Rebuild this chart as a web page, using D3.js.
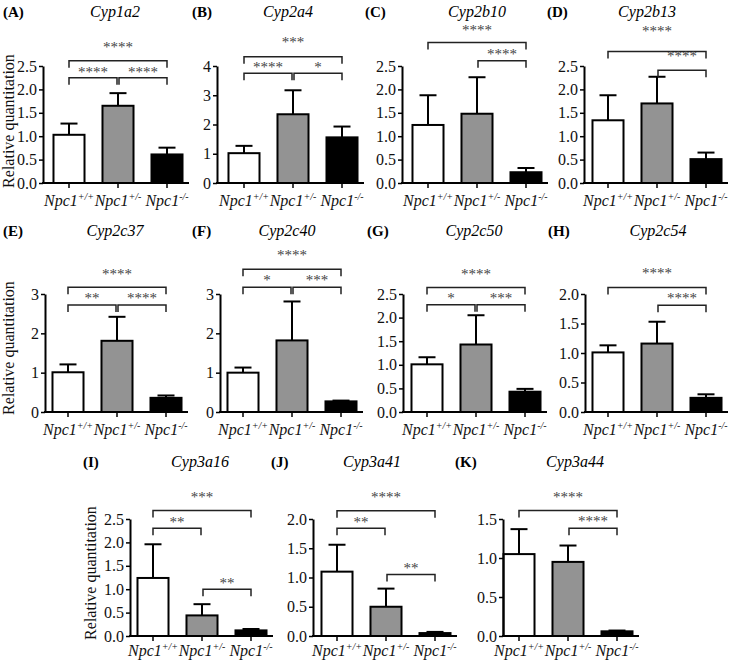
<!DOCTYPE html>
<html>
<head>
<meta charset="utf-8">
<script src="https://cdn.jsdelivr.net/npm/d3@7"></script>
<style>
  html, body { margin: 0; padding: 0; background: #fff; }
  svg { display: block; }
  svg text { font-family: "Liberation Serif", "Times New Roman", serif; }
</style>
</head>
<body>
<svg id="chart" width="733" height="662"></svg>
<script>
// ---------------- DATA ----------------
const panelLetters = ["(A)","(B)","(C)","(D)","(E)","(F)","(G)","(H)","(I)","(J)","(K)"];
const genes = ["Cyp1a2","Cyp2a4","Cyp2b10","Cyp2b13","Cyp2c37","Cyp2c40","Cyp2c50","Cyp2c54","Cyp3a16","Cyp3a41","Cyp3a44"];
const categories = ["Npc1+/+","Npc1+/-","Npc1-/-"];

const meanWT  = [1.03, 1.02, 1.24, 1.34, 1.01, 1.00, 1.01, 1.01, 1.24, 1.10, 1.05];
const errWT   = [0.24, 0.25, 0.635, 0.535, 0.20, 0.13, 0.15, 0.12, 0.72, 0.46, 0.32];
const meanHet = [1.65, 2.35, 1.48, 1.70, 1.81, 1.82, 1.43, 1.16, 0.44, 0.50, 0.95];
const errHet  = [0.27, 0.82, 0.78, 0.57, 0.61, 0.99, 0.62, 0.37, 0.24, 0.31, 0.21];
const meanKO  = [0.61, 1.56, 0.23, 0.51, 0.36, 0.27, 0.43, 0.24, 0.12, 0.05, 0.06];
const errKO   = [0.145, 0.37, 0.09, 0.14, 0.06, 0.02, 0.06, 0.06, 0.03, 0.02, 0.01];

const yMax  = [2.5, 4, 2.5, 2.5, 3, 3, 2.5, 2.0, 2.5, 2.0, 1.5];
const yStep = [0.5, 1, 0.5, 0.5, 1, 1, 0.5, 0.5, 0.5, 0.5, 0.5];

// significance comparisons: [from, to, label]
const sigComparisons = [
  [[0,2,"****"],[0,1,"****"],[1,2,"****"]],
  [[0,2,"***"],[0,1,"****"],[1,2,"*"]],
  [[0,2,"****"],[1,2,"****"]],
  [[0,2,"****"],[1,2,"****"]],
  [[0,2,"****"],[0,1,"**"],[1,2,"****"]],
  [[0,2,"****"],[0,1,"*"],[1,2,"***"]],
  [[0,2,"****"],[0,1,"*"],[1,2,"***"]],
  [[0,2,"****"],[1,2,"****"]],
  [[0,2,"***"],[0,1,"**"],[1,2,"**"]],
  [[0,2,"****"],[0,1,"**"],[1,2,"**"]],
  [[0,2,"****"],[1,2,"****"]]
];
// bracket heights (data units)
const sigHeights = [
  [2.61,2.25,2.25],[4.32,3.75,3.75],[3.0,2.61],[2.81,2.41],
  [3.17,2.72,2.72],[3.63,3.17,3.17],[2.64,2.27,2.27],[2.11,1.81],
  [2.68,2.30,1.00],[2.14,1.84,1.05],[1.61,1.38]
];

// ---------------- LAYOUT ----------------
const panelRow   = [0,0,0,0,1,1,1,1,2,2,2];
const axisX      = [43,217,402,584,45,220,403,585,130,313,503];
const firstCenter= [69,244,428,608,68,243,427,608,153,337,519];
const letterX    = [3,192,365,547,3,192,367,548,83,271,455];
const titleX     = [115,288,477,647,115,287,474,658,200,372,575];
const labelGapTop   = [16,16.5,14.5,22,15.5,16,15.5,16.3,15.7,15.7,15.7];
const labelGapInner = [8,8.3,8.7,16.7,9,9,9,9.3,8.5,8.5,9];
const rowBase  = [183, 412, 636];
const rowTop   = [66, 294, 519];
const rowTitleY = [17, 236, 467];
const rowXLabelY = [206, 435, 656];
const yTitle = [{x:14,y:121},{x:14,y:348},{x:96,y:573}];
const step = 49;
const serif = '"Liberation Serif", "Times New Roman", serif';
const fills = ["#ffffff", "#939393", "#000000"];

const svg = d3.select("#chart");
svg.append("rect").attr("width",733).attr("height",662).attr("fill","#fff");

function txt(sel) { return sel.style("font-family", serif); }

genes.forEach((gene, p) => {
  const row = panelRow[p];
  const g = svg.append("g");
  const vals = [
    {m: meanWT[p],  e: errWT[p]},
    {m: meanHet[p], e: errHet[p]},
    {m: meanKO[p],  e: errKO[p]}
  ];
  const c0 = firstCenter[p];
  const x = d3.scaleBand()
    .domain(categories)
    .range([c0 - step/2, c0 + 2.5*step])
    .paddingInner(0.367).paddingOuter(0.1835);
  const y = d3.scaleLinear().domain([0, yMax[p]]).range([rowBase[row], rowTop[row]]);
  const cx = i => x(categories[i]) + x.bandwidth()/2;

  // titles
  txt(g.append("text")).attr("x", letterX[p]).attr("y", rowTitleY[row])
    .style("font-weight","bold").style("font-size","15px")
    .text(panelLetters[p]);
  txt(g.append("text")).attr("x", titleX[p]).attr("y", rowTitleY[row])
    .attr("text-anchor","middle")
    .style("font-style","italic").style("font-size","16px")
    .text(gene);

  // bars
  vals.forEach((v, i) => {
    g.append("rect")
      .attr("x", x(categories[i]))
      .attr("y", y(v.m))
      .attr("width", x.bandwidth())
      .attr("height", y(0) - y(v.m))
      .attr("fill", fills[i]).attr("stroke","#000").attr("stroke-width",2);
    const top = y(v.m + v.e);
    g.append("line").attr("x1", cx(i)).attr("x2", cx(i))
      .attr("y1", y(v.m)).attr("y2", top).attr("stroke","#000").attr("stroke-width",2);
    g.append("line").attr("x1", cx(i) - 8.5).attr("x2", cx(i) + 8.5)
      .attr("y1", top).attr("y2", top).attr("stroke","#000").attr("stroke-width",2);
  });

  // y axis
  const ticks = d3.range(0, yMax[p] + 1e-9, yStep[p]);
  const fmt = yStep[p] < 1 ? d3.format(".1f") : d3.format("d");
  const ya = g.append("g").attr("transform", `translate(${axisX[p]},0)`)
    .call(d3.axisLeft(y).tickValues(ticks).tickFormat(fmt).tickSize(4).tickSizeOuter(0).tickPadding(2));
  ya.select(".domain").attr("stroke","#000").attr("stroke-width",2);
  ya.selectAll(".tick line").attr("stroke","#000").attr("stroke-width",1.5);
  ya.selectAll(".tick text").style("font-family", serif).style("font-size","16px").attr("fill","#111");

  // x axis
  const xEnd = cx(2) + 22;
  g.append("line").attr("x1", axisX[p] - 1).attr("x2", xEnd)
    .attr("y1", y(0)).attr("y2", y(0)).attr("stroke","#000").attr("stroke-width",2);
  categories.forEach((c, i) => {
    g.append("line").attr("x1", cx(i)).attr("x2", cx(i))
      .attr("y1", y(0)).attr("y2", y(0) + 5).attr("stroke","#000").attr("stroke-width",1.5);
    const t = txt(g.append("text")).attr("x", cx(i)).attr("y", rowXLabelY[row])
      .attr("text-anchor","middle")
      .style("font-style","italic").style("font-size","16px").attr("fill","#111");
    t.append("tspan").text(c.slice(0,4));
    t.append("tspan").attr("dy",-6).style("font-size","10px").text(c.slice(4));
  });

  // significance brackets
  sigComparisons[p].forEach((s, k) => {
    const [i, j, lab] = s;
    const yy = y(sigHeights[p][k]);
    const x1 = cx(i) + (i === 1 ? 1 : 0);
    const x2 = cx(j) - (j === 1 ? 1 : 0);
    g.append("path")
      .attr("d", `M${x1},${yy+7}V${yy}H${x2}V${yy+7}`)
      .attr("fill","none").attr("stroke","#222").attr("stroke-width",1.5);
    const gap = (i === 0 && j === 2) ? labelGapTop[p] : labelGapInner[p];
    txt(g.append("text")).attr("x", (x1 + x2)/2).attr("y", yy - gap + 7)
      .attr("text-anchor","middle")
      .style("font-size","15px").attr("fill","#444").text(lab);
  });
});

// y axis titles
yTitle.forEach(t => {
  txt(svg.append("text"))
    .attr("transform", `translate(${t.x},${t.y}) rotate(-90)`)
    .attr("text-anchor","middle").style("font-size","16px")
    .attr("fill","#111")
    .text("Relative quantitation");
});
</script>
</body>
</html>
